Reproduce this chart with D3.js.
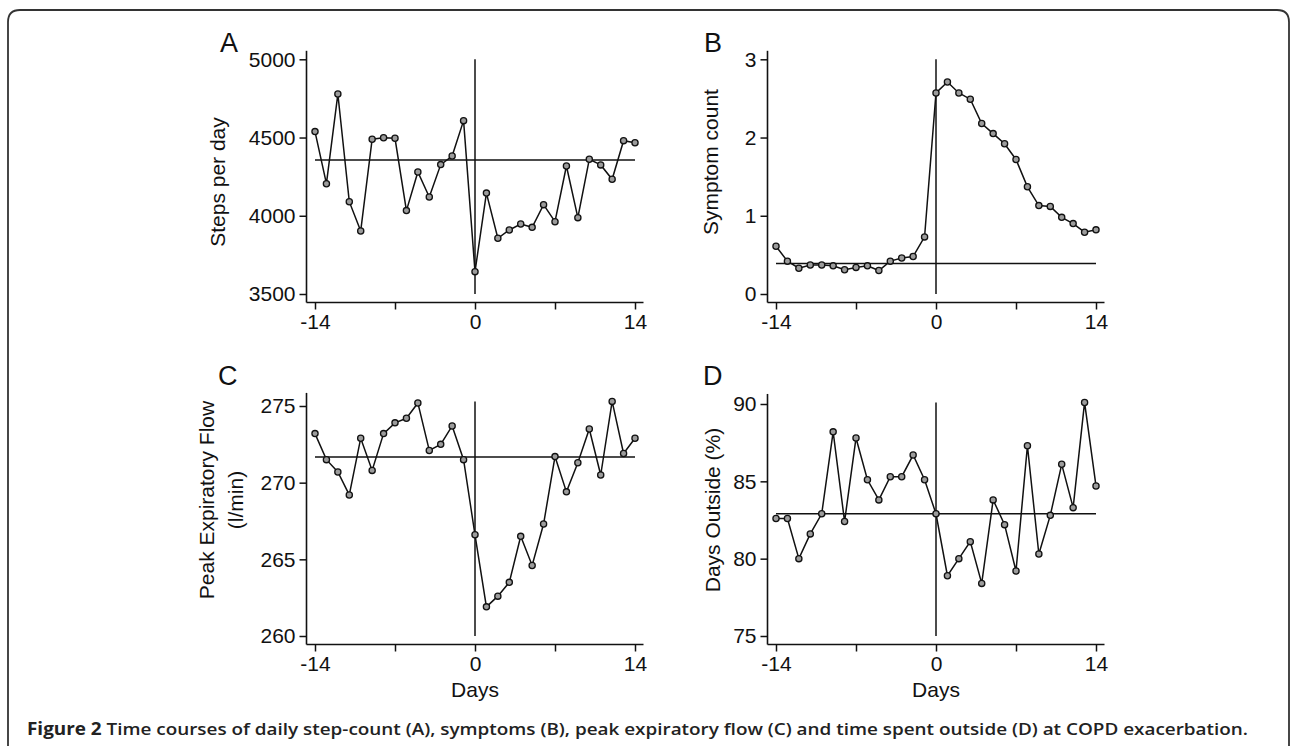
<!DOCTYPE html>
<html>
<head>
<meta charset="utf-8">
<script src="https://cdn.jsdelivr.net/npm/d3@7"></script>
<style>
    body { margin: 0; background: #fff; }
    svg { display: block; }
</style>
</head>
<body>
<div id="chart"></div>
<script>
// Days relative to exacerbation onset
var days = [-14, -13, -12, -11, -10, -9, -8, -7, -6, -5, -4, -3, -2, -1, 0,
            1, 2, 3, 4, 5, 6, 7, 8, 9, 10, 11, 12, 13, 14];
var dayTicks = [-14, -7, 0, 7, 14];
var dayLabels = [-14, 0, 14];

var stepsPerDay = [4538, 4205, 4778, 4090, 3903, 4489, 4499, 4495, 4033, 4280, 4120, 4327, 4382, 4608, 3643,
                   4145, 3856, 3909, 3947, 3926, 4071, 3962, 4318, 3988, 4361, 4325, 4233, 4480, 4467];
var stepsBaseline = 4357;
var stepsTicks = [3500, 4000, 4500, 5000];

var symptomCount = [0.61, 0.42, 0.33, 0.37, 0.37, 0.36, 0.31, 0.34, 0.36, 0.30, 0.42, 0.46, 0.48, 0.73, 2.57,
                    2.71, 2.57, 2.49, 2.18, 2.05, 1.92, 1.72, 1.37, 1.13, 1.12, 0.98, 0.90, 0.79, 0.82];
var symptomBaseline = 0.39;
var symptomTicks = [0, 1, 2, 3];

var peakFlow = [273.2, 271.5, 270.7, 269.2, 272.9, 270.8, 273.2, 273.9, 274.2, 275.2, 272.1, 272.5, 273.7, 271.5, 266.6,
                261.9, 262.6, 263.5, 266.5, 264.6, 267.3, 271.7, 269.4, 271.3, 273.5, 270.5, 275.3, 271.9, 272.9];
var peakFlowBaseline = 271.67;
var peakFlowTicks = [260, 265, 270, 275];

var daysOutside = [82.6, 82.6, 80.0, 81.6, 82.9, 88.2, 82.4, 87.8, 85.1, 83.8, 85.3, 85.3, 86.7, 85.1, 82.9,
                   78.9, 80.0, 81.1, 78.4, 83.8, 82.2, 79.2, 87.3, 80.3, 82.8, 86.1, 83.3, 90.1, 84.7];
var daysOutsideBaseline = 82.9;
var daysOutsideTicks = [75, 80, 85, 90];

var fontFamily = "'Liberation Sans', Arial, Helvetica, sans-serif",
    fontSize = 21,
    markerFill = "#9c9c9c",
    pad = 8.5;

var svg = d3.select("#chart").append("svg")
    .attr("width", 1292)
    .attr("height", 746);

// Figure frame (open at the bottom)
svg.append("path")
    .attr("d", "M8,746 V22 Q8,10 20,10 H1277 Q1289,10 1289,22 V746")
    .style("fill", "none")
    .style("stroke", "#333")
    .style("stroke-width", 1.8);

var panels = [
    {letter: "A", values: stepsPerDay, baseline: stepsBaseline, ticks: stepsTicks, title: ["Steps per day"],
     left: 315, top: 59.3, bottom: 294, letterX: 220, letterY: 52, titleX: [217], titleY: 182, days: false},
    {letter: "B", values: symptomCount, baseline: symptomBaseline, ticks: symptomTicks, title: ["Symptom count"],
     left: 776, top: 59.3, bottom: 294, letterX: 704, letterY: 52, titleX: [710], titleY: 162, days: false},
    {letter: "C", values: peakFlow, baseline: peakFlowBaseline, ticks: peakFlowTicks, title: ["Peak Expiratory Flow", "(l/min)"],
     left: 315, top: 406, bottom: 636, letterX: 218, letterY: 385, titleX: [206, 235], titleY: 500, days: true},
    {letter: "D", values: daysOutside, baseline: daysOutsideBaseline, ticks: daysOutsideTicks, title: ["Days Outside (%)"],
     left: 776, top: 404, bottom: 636, letterX: 703, letterY: 385, titleX: [712], titleY: 510, days: true}
];

panels.forEach(function (p) { drawPanel(p); });

function drawPanel(p) {
    var x = d3.scaleLinear().domain([-14, 14]).range([p.left, p.left + 320]);
    var y = d3.scaleLinear().domain(d3.extent(p.ticks)).range([p.bottom, p.top]);

    var plotTop = y(Math.max(d3.max(p.ticks), d3.max(p.values))),
        plotBottom = y(d3.min(p.ticks)),
        axisX = x(-14) - pad,
        axisY = plotBottom + pad;

    var g = svg.append("g");

    // Axis lines
    g.append("line")
        .attr("x1", axisX).attr("x2", axisX)
        .attr("y1", plotTop - pad).attr("y2", axisY)
        .style("stroke", "#111").style("stroke-width", 1.6);
    g.append("line")
        .attr("x1", axisX).attr("x2", x(14) + pad)
        .attr("y1", axisY).attr("y2", axisY)
        .style("stroke", "#111").style("stroke-width", 1.6);

    var yAxis = d3.axisLeft(y)
        .tickValues(p.ticks)
        .tickSize(7)
        .tickPadding(4)
        .tickFormat(function (d) { return String(d); });

    g.append("g")
        .attr("transform", "translate(" + axisX + ",0)")
        .call(yAxis)
        .call(function (a) { a.select(".domain").remove(); })
        .attr("font-size", fontSize)
        .attr("font-family", fontFamily);

    var xAxis = d3.axisBottom(x)
        .tickValues(dayTicks)
        .tickSize(7)
        .tickPadding(5)
        .tickFormat(function (d) { return dayLabels.indexOf(d) >= 0 ? String(d) : ""; });

    g.append("g")
        .attr("transform", "translate(0," + axisY + ")")
        .call(xAxis)
        .call(function (a) { a.select(".domain").remove(); })
        .attr("font-size", fontSize)
        .attr("font-family", fontFamily);

    g.selectAll(".tick line").style("stroke", "#111").style("stroke-width", 1.5);
    g.selectAll(".tick text").style("fill", "#111");

    // Reference lines: onset and baseline mean
    g.append("line")
        .attr("x1", x(0)).attr("x2", x(0))
        .attr("y1", plotTop).attr("y2", plotBottom)
        .style("stroke", "#111").style("stroke-width", 1.5);
    g.append("line")
        .attr("x1", x(-14)).attr("x2", x(14))
        .attr("y1", y(p.baseline)).attr("y2", y(p.baseline))
        .style("stroke", "#111").style("stroke-width", 1.5);

    var line = d3.line()
        .x(function (d, i) { return x(days[i]); })
        .y(function (d) { return y(d); });

    g.append("path")
        .datum(p.values)
        .attr("d", line)
        .style("fill", "none")
        .style("stroke", "#111")
        .style("stroke-width", 1.5);

    g.selectAll(".dot")
        .data(p.values)
        .enter().append("circle")
        .attr("class", "dot")
        .attr("cx", function (d, i) { return x(days[i]); })
        .attr("cy", function (d) { return y(d); })
        .attr("r", 3.1)
        .style("fill", markerFill)
        .style("stroke", "#111")
        .style("stroke-width", 1.3);

    // Panel letter and axis titles
    g.append("text")
        .attr("x", p.letterX).attr("y", p.letterY)
        .text(p.letter)
        .style("font-family", fontFamily)
        .style("font-size", "27px")
        .style("fill", "#111");

    p.title.forEach(function (t, i) {
        g.append("text")
            .attr("transform", "translate(" + p.titleX[i] + "," + p.titleY + ") rotate(-90)")
            .attr("text-anchor", "middle")
            .attr("dominant-baseline", "central")
            .text(t)
            .style("font-family", fontFamily)
            .style("font-size", fontSize + "px")
            .style("fill", "#111");
    });

    if (p.days) {
        g.append("text")
            .attr("x", x(0)).attr("y", 697)
            .attr("text-anchor", "middle")
            .text("Days")
            .style("font-family", fontFamily)
            .style("font-size", fontSize + "px")
            .style("fill", "#111");
    }
}

// Caption
var caption = svg.append("text")
    .attr("x", 27).attr("y", 735)
    .attr("textLength", 1221)
    .attr("lengthAdjust", "spacingAndGlyphs")
    .style("font-family", "'Open Sans', 'Noto Sans', sans-serif")
    .style("font-weight", "bold")
    .style("font-size", "17px")
    .style("fill", "#222");
caption.append("tspan").text("Figure 2 ");
caption.append("tspan").style("font-weight", 600)
    .text("Time courses of daily step-count (A), symptoms (B), peak expiratory flow (C) and time spent outside (D) at COPD exacerbation.");
</script>
</body>
</html>
